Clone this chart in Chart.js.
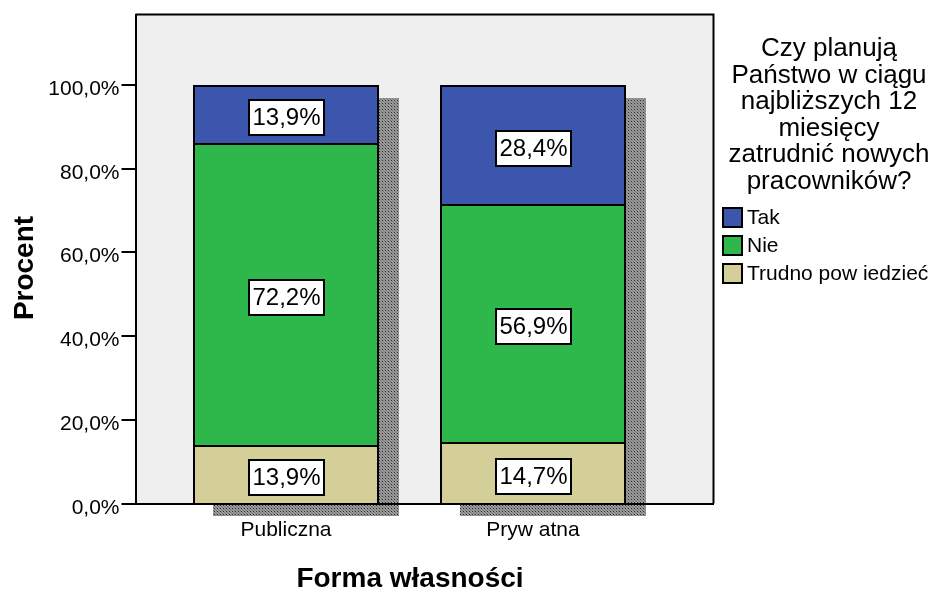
<!DOCTYPE html>
<html lang="pl">
<head>
<meta charset="utf-8">
<title>Forma własności – plany zatrudnienia</title>
<script src="https://cdn.jsdelivr.net/npm/chart.js@4/dist/chart.umd.min.js"></script>
<style>
  html, body { margin: 0; padding: 0; background: #ffffff; }
  #wrap { width: 935px; height: 590px; }
</style>
</head>
<body>
<div id="wrap"><canvas id="chart" width="935" height="590"></canvas></div>
<script>
// Categories and stacked series (percent of respondents)
const categories = ['Publiczna', 'Pryw atna'];
const seriesNames = ['Trudno pow iedzieć', 'Nie', 'Tak'];
const trudno = [13.9, 14.7];
const nie = [72.2, 56.9];
const tak = [13.9, 28.4];
const yTicks = [0, 20, 40, 60, 80, 100];
const legendTitle = ['Czy planują', 'Państwo w ciągu', 'najbliższych 12', 'miesięcy', 'zatrudnić nowych', 'pracowników?'];
const xTitle = 'Forma własności';
const yTitle = 'Procent';

const seriesValues = [trudno, nie, tak];
const seriesColors = ['#d4ce99', '#2eb84b', '#3c56ad'];
const FONT = "'Liberation Sans', Arial, sans-serif";

const fmtPct = v => v.toFixed(1).replace('.', ',') + '%';

// Checkered grey fill used for the drop shadow behind each stack
function shadowPattern(ctx) {
  const c = document.createElement('canvas');
  c.width = 3; c.height = 3;
  const p = c.getContext('2d');
  p.fillStyle = '#9a9a9a';
  p.fillRect(0, 0, 3, 3);
  p.fillStyle = '#7a7a7a';
  p.fillRect(0, 0, 1, 1); p.fillRect(2, 2, 1, 1);
  p.fillStyle = '#2e2e2e';
  p.fillRect(1, 1, 1, 1);
  return ctx.createPattern(c, 'repeat');
}

const SHADOW_DX = 20, SHADOW_DY = 13;

const framePlugin = {
  id: 'frame',
  beforeDraw(chart) {
    const { ctx, chartArea: a } = chart;
    ctx.save();
    ctx.fillStyle = '#ffffff';
    ctx.fillRect(0, 0, chart.width, chart.height);
    ctx.fillStyle = '#efefef';
    ctx.fillRect(a.left, a.top, a.right - a.left, a.bottom - a.top);

    // shadows: one per category, spanning the full stack
    const pattern = shadowPattern(ctx);
    const metas = chart.data.datasets.map((_, i) => chart.getDatasetMeta(i));
    categories.forEach((_, ci) => {
      let top = Infinity, bottom = -Infinity, left = 0, right = 0;
      metas.forEach(m => {
        const el = m.data[ci];
        if (!el) return;
        const { x, y, base, width } = el.getProps(['x', 'y', 'base', 'width'], true);
        top = Math.min(top, y, base);
        bottom = Math.max(bottom, y, base);
        left = x - width / 2; right = x + width / 2;
      });
      ctx.fillStyle = pattern;
      ctx.fillRect(Math.round(left + SHADOW_DX), Math.round(top + SHADOW_DY),
                   Math.round(right - left), Math.round(bottom - top));
    });
    ctx.restore();
  },
  afterDatasetsDraw(chart) {
    const { ctx, chartArea: a } = chart;
    ctx.save();
    // top and right edges of the plot frame
    ctx.strokeStyle = '#000';
    ctx.lineWidth = 2;
    ctx.beginPath();
    ctx.moveTo(a.left, a.top);
    ctx.lineTo(a.right, a.top);
    ctx.lineTo(a.right, a.bottom);
    ctx.stroke();

    // value labels in white boxes
    ctx.font = '24px ' + FONT;
    ctx.textAlign = 'center';
    ctx.textBaseline = 'middle';
    chart.data.datasets.forEach((ds, di) => {
      const meta = chart.getDatasetMeta(di);
      meta.data.forEach((el, i) => {
        const { x, y, base } = el.getProps(['x', 'y', 'base'], true);
        const txt = fmtPct(ds.data[i].y);
        const w = Math.round(ctx.measureText(txt).width + 7);
        const h = 35;
        const bx = Math.round(x - w / 2);
        const by = Math.round((y + base) / 2 + 3.5 - h / 2);
        ctx.fillStyle = '#ffffff';
        ctx.fillRect(bx, by, w, h);
        ctx.lineWidth = 2;
        ctx.strokeStyle = '#000';
        ctx.strokeRect(bx, by, w, h);
        ctx.fillStyle = '#000';
        ctx.fillText(txt, bx + w / 2, by + h / 2 + 1);
      });
    });
    ctx.restore();
  },
  afterDraw(chart) {
    const { ctx } = chart;
    ctx.save();
    ctx.fillStyle = '#000';
    // axis titles
    ctx.font = 'bold 28px ' + FONT;
    ctx.textAlign = 'center';
    ctx.textBaseline = 'alphabetic';
    ctx.fillText(xTitle, 410, 587);
    ctx.translate(33, 268);
    ctx.rotate(-Math.PI / 2);
    ctx.fillText(yTitle, 0, 0);
    ctx.setTransform(1, 0, 0, 1, 0, 0);

    // legend title
    ctx.font = '26px ' + FONT;
    legendTitle.forEach((line, i) => ctx.fillText(line, 829, 56 + i * 26.6));

    // legend entries, top of stack first
    ctx.textAlign = 'left';
    ctx.textBaseline = 'middle';
    ctx.font = '21px ' + FONT;
    const items = chart.data.datasets.map((ds, i) => ({ label: ds.label, color: ds.backgroundColor })).reverse();
    items.forEach((it, i) => {
      const by = 208 + i * 28;
      ctx.fillStyle = it.color;
      ctx.fillRect(723, by, 19, 19);
      ctx.strokeStyle = '#000';
      ctx.lineWidth = 2;
      ctx.strokeRect(723, by, 19, 19);
      ctx.fillStyle = '#000';
      ctx.fillText(it.label, 747, by + 10);
    });
    ctx.restore();
  }
};

const datasets = seriesNames.map((name, si) => ({
  label: name,
  data: seriesValues[si].map((v, i) => ({ x: i, y: v })),
  backgroundColor: seriesColors[si],
  borderColor: '#000',
  // each segment draws its own top edge; the axis line closes the bottom
  borderWidth: { top: 2, bottom: 0, left: 2, right: 2 },
  borderSkipped: false,
  barPercentage: 0.753,
  categoryPercentage: 1
}));

new Chart(document.getElementById('chart'), {
  type: 'bar',
  data: { datasets },
  options: {
    responsive: false,
    animation: false,
    devicePixelRatio: 1,
    layout: { padding: { top: 14, right: 221.5, left: 0, bottom: 0 } },
    plugins: {
      legend: { display: false },
      tooltip: { enabled: false }
    },
    scales: {
      x: {
        type: 'linear',
        stacked: true,
        offset: false,
        bounds: 'data',
        alignToPixels: true,
        min: -0.611,
        max: 1.732,
        afterBuildTicks: s => { s.ticks = categories.map((_, i) => ({ value: i })); },
        afterFit: s => { s.height = 86.5; },
        ticks: {
          callback: v => categories[v],
          color: '#000',
          font: { family: FONT, size: 21 },
          padding: 14,
          maxRotation: 0,
          autoSkip: false
        },
        grid: { display: false, drawTicks: false, offset: false },
        border: { display: true, color: '#000', width: 2 }
      },
      y: {
        stacked: true,
        min: 0,
        max: 116.8,
        alignToPixels: true,
        afterBuildTicks: s => { s.ticks = yTicks.map(v => ({ value: v })); },
        afterFit: s => { s.width = 135.5; },
        ticks: {
          callback: v => fmtPct(v),
          color: '#000',
          font: { family: FONT, size: 21 },
          padding: 2,
          labelOffset: 4
        },
        grid: {
          display: true,
          drawOnChartArea: false,
          drawTicks: true,
          tickLength: 14,
          color: '#000',
          lineWidth: 2
        },
        border: { display: true, color: '#000', width: 2 }
      }
    }
  },
  plugins: [framePlugin]
});
</script>
</body>
</html>
